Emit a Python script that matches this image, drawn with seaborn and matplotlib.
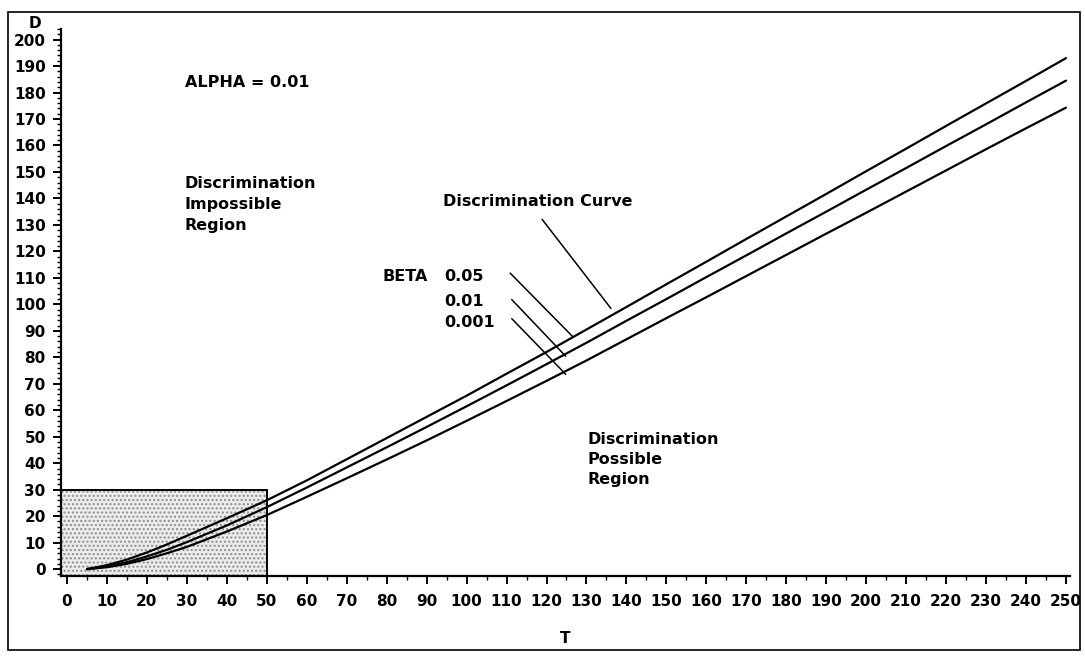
import numpy as np
import matplotlib
matplotlib.use("Agg")
import matplotlib.pyplot as plt
from matplotlib.patches import Rectangle
from matplotlib.ticker import MultipleLocator
import seaborn as sns

# curve values (D versus T), one series per BETA level
t_vals = [5, 10, 15, 20, 25, 30, 40, 50, 60, 70, 80, 90, 100, 110, 120, 130,
          140, 150, 160, 170, 180, 190, 200, 210, 220, 230, 240, 250]
d_beta_005 = [0, 1.5, 3.6, 6.3, 9.3, 12.6, 19.2, 26, 33.5, 41.5, 49.5, 57.5, 65.5,
              73.8, 82, 90.5, 99, 107.6, 116.1, 124.7, 133.2, 141.7, 150.3, 158.8,
              167.4, 175.9, 184.4, 193]
d_beta_001 = [0, 1, 2.6, 4.8, 7.3, 10.2, 16.5, 23.4, 30.8, 38.4, 46, 53.7, 61.5,
              69.4, 77.4, 85.5, 93.8, 102, 110.3, 118.5, 126.8, 135, 143.3,
              151.5, 159.8, 168, 176.3, 184.5]
d_beta_0001 = [0, 0.7, 2, 3.8, 6, 8.4, 14.2, 20.4, 27.3, 34.3, 41.4, 48.6, 56,
               63.5, 71.1, 78.8, 86.8, 94.8, 102.7, 110.7, 118.7, 126.7, 134.6,
               142.6, 150.6, 158.6, 166.5, 174.3]
beta_labels = ["0.05", "0.01", "0.001"]

x_ticks = list(range(0, 251, 10))
y_ticks = list(range(0, 201, 10))

sns.set_style("ticks")
plt.rcParams["font.family"] = ["DejaVu Sans"]
plt.rcParams["font.weight"] = "bold"
plt.rcParams["text.color"] = "black"
plt.rcParams["xtick.color"] = "black"
plt.rcParams["ytick.color"] = "black"
plt.rcParams["axes.labelcolor"] = "black"

fig = plt.figure(figsize=(10.85, 6.57), dpi=100)
ax = fig.add_axes([61 / 1085, 1 - 576 / 657, (1070 - 61) / 1085, (576 - 29) / 657])

# shaded "impossible" box in the lower-left corner
ax.add_patch(Rectangle((-1.5, -2.6), 51.5, 32.6, facecolor="#ececec",
                       edgecolor="#8c8c8c", hatch="....", linewidth=0, zorder=1))
ax.add_patch(Rectangle((-1.5, -2.6), 51.5, 32.6, fill=False,
                       edgecolor="black", linewidth=1.4, zorder=2))

for d in (d_beta_005, d_beta_001, d_beta_0001):
    sns.lineplot(x=t_vals, y=d, ax=ax, color="black", linewidth=1.6, zorder=3,
                 legend=False)

ax.set_xlim(-1.5, 251)
ax.set_ylim(-2.6, 204)
ax.set_xticks(x_ticks)
ax.set_yticks(y_ticks)
ax.xaxis.set_minor_locator(MultipleLocator(5))
ax.yaxis.set_minor_locator(MultipleLocator(2))
ax.tick_params(axis="both", which="major", direction="out", length=6, width=1.4,
               labelsize=11, color="black", labelcolor="black")
ax.tick_params(axis="x", which="major", pad=7)
ax.tick_params(axis="y", which="major", pad=5)
ax.tick_params(axis="both", which="minor", direction="out", length=3, width=1,
               color="black")
for lab in ax.get_xticklabels() + ax.get_yticklabels():
    lab.set_fontweight("bold")
sns.despine(ax=ax)
for s in ("left", "bottom"):
    ax.spines[s].set_linewidth(1.6)
    ax.spines[s].set_color("black")

ax.set_xlabel("T", fontsize=11, fontweight="bold", labelpad=16, color="black")
ax.set_ylabel("")
fig.text(35 / 1085, 1 - 23 / 657, "D", ha="center", va="center",
         fontsize=11, fontweight="bold", color="black")

txt = dict(fontsize=11.5, fontweight="bold", color="black")
ax.text(29.5, 183.8, "ALPHA = 0.01", ha="left", va="center", **txt)
ax.text(29.5, 148.5, "Discrimination\nImpossible\nRegion", ha="left", va="top",
        linespacing=1.5, **txt)
ax.text(94, 139, "Discrimination Curve", ha="left", va="center", **txt)
ax.text(130.2, 51.8, "Discrimination\nPossible\nRegion", ha="left", va="top",
        linespacing=1.4, **txt)
ax.text(79, 110.4, "BETA", ha="left", va="center", **txt)
for lab, yv in zip(beta_labels, [110.4, 101.2, 93.2]):
    ax.text(94.3, yv, lab, ha="left", va="center", **txt)

# leader lines
ax.plot([118.9, 136.1], [132.1, 98.5], color="black", lw=1.1)
ax.plot([110.9, 126.5], [111.8, 87.9], color="black", lw=1.1)
ax.plot([111.3, 124.8], [101.8, 80.4], color="black", lw=1.1)
ax.plot([111.3, 124.8], [94.6, 73.6], color="black", lw=1.1)

# outer frame around the whole figure
fig.add_artist(Rectangle((8 / 1085, 1 - 650 / 657), (1080 - 8) / 1085, (650 - 12) / 657,
                         transform=fig.transFigure, fill=False,
                         edgecolor="black", linewidth=1.2))

fig.savefig("out.png", dpi=100)
